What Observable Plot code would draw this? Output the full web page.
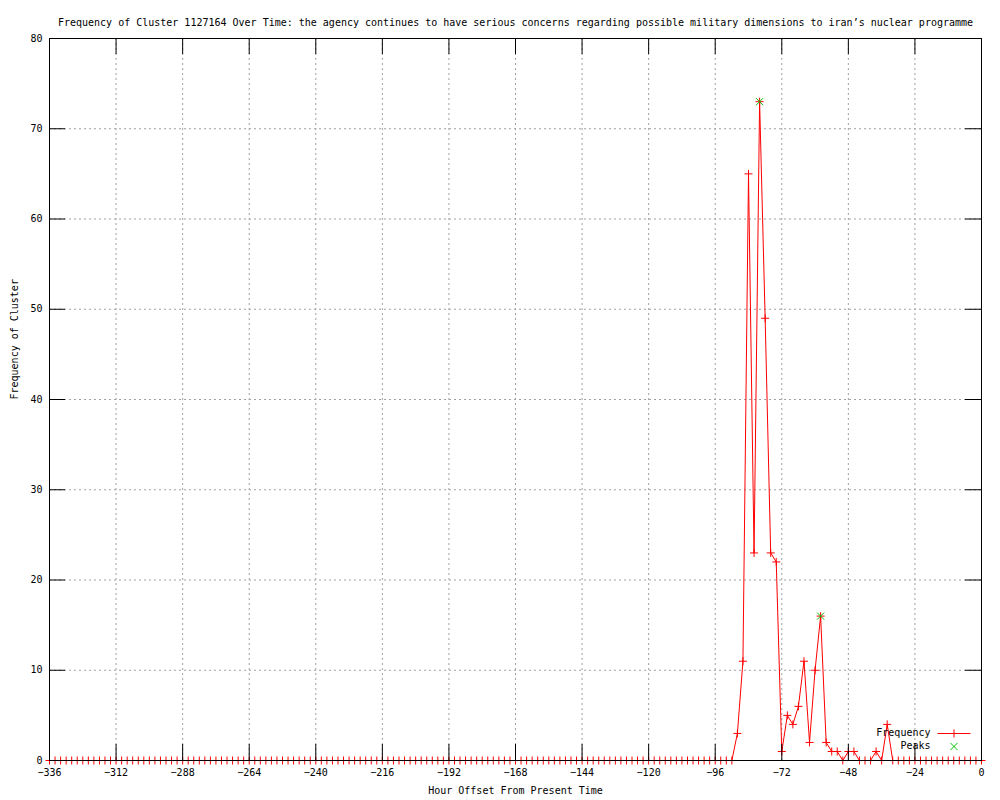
<!DOCTYPE html>
<html>
<head>
<meta charset="utf-8">
<script src="https://cdn.jsdelivr.net/npm/d3@7"></script>
<script src="https://cdn.jsdelivr.net/npm/@observablehq/plot@0.6"></script>
<style>
  html, body { margin: 0; padding: 0; background: #fff; }
</style>
</head>
<body>
<div id="chart"></div>
<script>
const titleText = "Frequency of Cluster 1127164 Over Time: the agency continues to have serious concerns regarding possible military dimensions to iran\u2019s nuclear programme";
const xLabel = "Hour Offset From Present Time";
const yLabel = "Frequency of Cluster";

const hours = [
  -336,-334,-332,-330,-328,-326,-324,-322,-320,-318,-316,-314,
  -312,-310,-308,-306,-304,-302,-300,-298,-296,-294,-292,-290,
  -288,-286,-284,-282,-280,-278,-276,-274,-272,-270,-268,-266,
  -264,-262,-260,-258,-256,-254,-252,-250,-248,-246,-244,-242,
  -240,-238,-236,-234,-232,-230,-228,-226,-224,-222,-220,-218,
  -216,-214,-212,-210,-208,-206,-204,-202,-200,-198,-196,-194,
  -192,-190,-188,-186,-184,-182,-180,-178,-176,-174,-172,-170,
  -168,-166,-164,-162,-160,-158,-156,-154,-152,-150,-148,-146,
  -144,-142,-140,-138,-136,-134,-132,-130,-128,-126,-124,-122,
  -120,-118,-116,-114,-112,-110,-108,-106,-104,-102,-100,-98,
  -96,-94,-92,-90,-88,-86,-84,-82,-80,-78,-76,-74,
  -72,-70,-68,-66,-64,-62,-60,-58,-56,-54,-52,-50,
  -48,-46,-44,-42,-40,-38,-36,-34,-32,-30,-28,-26,
  -24,-22,-20,-18,-16,-14,-12,-10,-8,-6,-4,-2,
  0
];
const frequency = [
  0,0,0,0,0,0,0,0,0,0,0,0,
  0,0,0,0,0,0,0,0,0,0,0,0,
  0,0,0,0,0,0,0,0,0,0,0,0,
  0,0,0,0,0,0,0,0,0,0,0,0,
  0,0,0,0,0,0,0,0,0,0,0,0,
  0,0,0,0,0,0,0,0,0,0,0,0,
  0,0,0,0,0,0,0,0,0,0,0,0,
  0,0,0,0,0,0,0,0,0,0,0,0,
  0,0,0,0,0,0,0,0,0,0,0,0,
  0,0,0,0,0,0,0,0,0,0,0,0,
  0,0,0,0,3,11,65,23,73,49,23,22,
  1,5,4,6,11,2,10,16,2,1,1,0,
  1,1,0,0,0,1,0,4,0,0,0,0,
  0,0,0,0,0,0,0,0,0,0,0,0,
  0
];
const peakHours = [-80, -58];
const peakValues = [73, 16];

const xTicks = [-336,-312,-288,-264,-240,-216,-192,-168,-144,-120,-96,-72,-48,-24,0];
const yTicks = [0,10,20,30,40,50,60,70,80];
const legendLabels = ["Frequency", "Peaks"];

const series = hours.map((h, i) => ({hour: h, freq: frequency[i]}));
const peaks = peakHours.map((h, i) => ({hour: h, freq: peakValues[i]}));

const W = 1000, H = 800;
const mL = 49, mR = 19, mT = 38, mB = 40;
const frameW = W - mL - mR, frameH = H - mT - mB;
const tickLen = 16;
const font = "DejaVu Sans Mono, monospace";
const green = "#00c000";

const plusSym = {
  draw(context) {
    context.moveTo(-4, 0); context.lineTo(4, 0);
    context.moveTo(0, -4); context.lineTo(0, 4);
  }
};
const legendLine = {
  draw(context) {
    context.moveTo(-16.5, 0); context.lineTo(16.5, 0);
    context.moveTo(0, -4); context.lineTo(0, 4);
  }
};

const chart = Plot.plot({
  width: W, height: H,
  marginLeft: mL, marginRight: mR, marginTop: mT, marginBottom: mB,
  style: {background: "#fff", fontFamily: font, fontSize: "10px", color: "#000"},
  x: {domain: [-336, 0]},
  y: {domain: [0, 80]},
  marks: [
    Plot.ruleX(xTicks, {x: d => d, stroke: "#a0a0a0", strokeDasharray: "2,3", strokeWidth: 1}),
    Plot.ruleY(yTicks, {y: d => d, stroke: "#a0a0a0", strokeDasharray: "2,3", strokeWidth: 1}),
    Plot.line(series, {x: "hour", y: "freq", stroke: "red", strokeWidth: 1}),
    Plot.dot(series, {x: "hour", y: "freq", symbol: plusSym, r: 4, stroke: "red", strokeWidth: 1}),
    Plot.dot(peaks, {x: "hour", y: "freq", symbol: "times", r: 3.3, stroke: green, strokeWidth: 1}),
    Plot.frame({stroke: "#000", strokeWidth: 1}),
    Plot.tickX(xTicks, {x: d => d, insetTop: frameH - tickLen, stroke: "#000"}),
    Plot.tickX(xTicks, {x: d => d, insetBottom: frameH - tickLen, stroke: "#000"}),
    Plot.tickY(yTicks, {y: d => d, insetRight: frameW - tickLen, stroke: "#000"}),
    Plot.tickY(yTicks, {y: d => d, insetLeft: frameW - tickLen, stroke: "#000"}),
    Plot.axisX(xTicks, {tickSize: 0, tickPadding: 8, label: null, fontSize: 10, fontFamily: font, fill: "#000"}),
    Plot.axisY(yTicks, {tickSize: 0, tickPadding: 7, label: null, fontSize: 10, fontFamily: font, fill: "#000"}),
    Plot.text([titleText], {frameAnchor: "top", dy: -20, fontSize: 10, fontFamily: font, fill: "#000"}),
    Plot.text([xLabel], {frameAnchor: "bottom", dy: 33, fontSize: 10, fontFamily: font, fill: "#000"}),
    Plot.text([yLabel], {frameAnchor: "left", dx: -35, rotate: -90, fontSize: 10, fontFamily: font, fill: "#000"}),
    Plot.text([legendLabels[0]], {frameAnchor: "bottom-right", dx: -51, dy: -25, textAnchor: "end", fontSize: 10, fontFamily: font, fill: "#000"}),
    Plot.text([legendLabels[1]], {frameAnchor: "bottom-right", dx: -51, dy: -12, textAnchor: "end", fontSize: 10, fontFamily: font, fill: "#000"}),
    Plot.dot([legendLabels[0]], {frameAnchor: "bottom-right", dx: -27.5, dy: -27, symbol: legendLine, r: 5, stroke: "red", strokeWidth: 1}),
    Plot.dot([legendLabels[1]], {frameAnchor: "bottom-right", dx: -27.5, dy: -14, symbol: "times", r: 3.3, stroke: green, strokeWidth: 1})
  ]
});
document.getElementById("chart").appendChild(chart);
</script>
</body>
</html>
